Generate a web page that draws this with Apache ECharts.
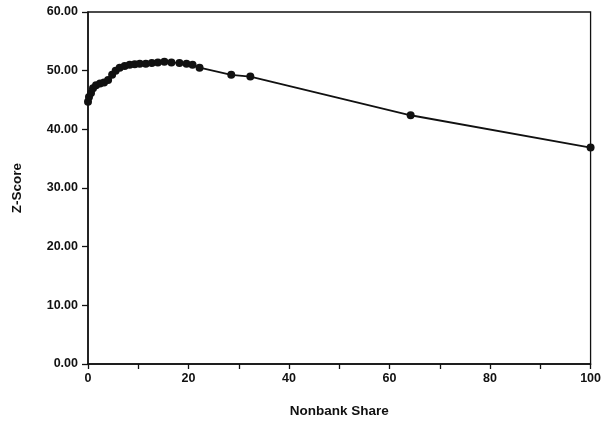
<!DOCTYPE html>
<html>
<head>
<meta charset="utf-8">
<script src="https://cdn.jsdelivr.net/npm/echarts@6/dist/echarts.min.js"></script>
<style>
  html, body { margin: 0; padding: 0; background: #fff; }
  #main { width: 604px; height: 423px; }
</style>
</head>
<body>
<div id="main"></div>
<script>
// nonbank share (x) and z-score (y)
var share = [0, 0.2, 0.6, 1, 1.6, 2.4, 3.2, 4, 4.8, 5.5, 6.3, 7.3, 8.3, 9.3, 10.3, 11.5, 12.7, 13.9, 15.2, 16.6, 18.2, 19.6, 20.8, 22.2, 28.5, 32.3, 64.2, 100];
var zscore = [44.7, 45.5, 46.2, 47, 47.5, 47.8, 48, 48.4, 49.3, 50, 50.5, 50.8, 51, 51.1, 51.2, 51.2, 51.3, 51.4, 51.5, 51.4, 51.3, 51.2, 51, 50.5, 49.3, 49, 42.4, 36.9];

var pts = [];
for (var i = 0; i < share.length; i++) {
    pts.push([share[i], zscore[i]]);
}

var myChart = echarts.init(document.getElementById('main'));
var font = 'Liberation Sans, Arial, sans-serif';

var option = {
    animation: false,
    grid: {
        left: 88, right: 11, top: 12, bottom: 58,
        show: true, borderColor: '#111', borderWidth: 1.3
    },
    xAxis: {
        type: 'value', min: 0, max: 100, interval: 20,
        name: 'Nonbank Share', nameLocation: 'middle', nameGap: 40,
        nameTextStyle: { color: '#111', fontSize: 13.5, fontWeight: 'bold', fontFamily: font },
        axisLine: { lineStyle: { color: '#111', width: 1.5 } },
        axisTick: { show: true, inside: false, length: 5, lineStyle: { color: '#111', width: 1.3 } },
        minorTick: { show: true, splitNumber: 2, length: 5, lineStyle: { color: '#111', width: 1.3 } },
        axisLabel: { color: '#111', fontSize: 12.5, fontWeight: 'bold', fontFamily: font, margin: 8 },
        splitLine: { show: false }
    },
    yAxis: {
        type: 'value', min: 0, max: 60, interval: 10,
        name: 'Z-Score', nameLocation: 'middle', nameGap: 64,
        nameTextStyle: { color: '#111', fontSize: 13.5, fontWeight: 'bold', fontFamily: font },
        axisLine: { show: true, lineStyle: { color: '#111', width: 1.5 } },
        axisTick: { show: true, inside: false, length: 6, lineStyle: { color: '#111', width: 1.3 } },
        axisLabel: {
            color: '#111', fontSize: 12.5, fontWeight: 'bold', fontFamily: font, margin: 10,
            formatter: function (v) { return v.toFixed(2); }
        },
        splitLine: { show: false }
    },
    series: [{
        type: 'line',
        data: pts,
        symbol: 'circle',
        symbolSize: 8,
        itemStyle: { color: '#111' },
        lineStyle: { color: '#111', width: 1.8 }
    }]
};
myChart.setOption(option);
</script>
</body>
</html>
